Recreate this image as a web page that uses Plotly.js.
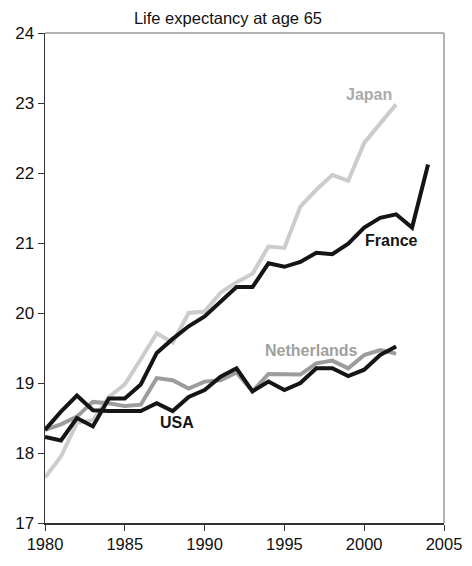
<!DOCTYPE html>
<html>
<head>
<meta charset="utf-8">
<script src="https://cdn.plot.ly/plotly-3.0.1.min.js"></script>
<style>
  html, body { margin: 0; padding: 0; background: #fff; }
  #chart { width: 472px; height: 566px; }
</style>
</head>
<body>
<div id="chart"></div>
<script>
// Life expectancy at age 65 (years), 1980 onwards
const yearsJapan = [1980,1981,1982,1983,1984,1985,1986,1987,1988,1989,1990,1991,1992,1993,1994,1995,1996,1997,1998,1999,2000,2001,2002];
const japan = [17.65,17.95,18.43,18.47,18.8,18.98,19.34,19.71,19.58,20.0,20.02,20.29,20.44,20.56,20.95,20.93,21.52,21.76,21.97,21.89,22.43,22.71,22.98];

const yearsFrance = [1980,1981,1982,1983,1984,1985,1986,1987,1988,1989,1990,1991,1992,1993,1994,1995,1996,1997,1998,1999,2000,2001,2002,2003,2004];
const france = [18.23,18.18,18.5,18.38,18.78,18.78,18.98,19.43,19.63,19.81,19.95,20.16,20.37,20.37,20.71,20.66,20.73,20.86,20.84,20.99,21.22,21.36,21.41,21.22,22.12];

const yearsNL = [1980,1981,1982,1983,1984,1985,1986,1987,1988,1989,1990,1991,1992,1993,1994,1995,1996,1997,1998,1999,2000,2001,2002];
const netherlands = [18.33,18.41,18.52,18.73,18.71,18.67,18.69,19.07,19.04,18.92,19.02,19.04,19.15,18.88,19.13,19.13,19.12,19.28,19.32,19.21,19.4,19.47,19.42];

const yearsUSA = [1980,1981,1982,1983,1984,1985,1986,1987,1988,1989,1990,1991,1992,1993,1994,1995,1996,1997,1998,1999,2000,2001,2002];
const usa = [18.33,18.59,18.82,18.61,18.6,18.6,18.6,18.71,18.6,18.8,18.9,19.09,19.21,18.88,19.02,18.9,19.0,19.21,19.21,19.1,19.19,19.4,19.52];

const xTicks = [1980,1985,1990,1995,2000,2005];
const yTicks = [17,18,19,20,21,22,23,24];

const cJapan = '#cccccc', cNL = '#9c9c9c', cDark = '#151515';
const font = 'Liberation Sans, Arial, Helvetica, sans-serif';

function series(x, y, color) {
  return { x: x, y: y, type: 'scatter', mode: 'lines',
           line: { color: color, width: 4, shape: 'linear' },
           hoverinfo: 'skip', showlegend: false };
}

const traces = [
  series(yearsJapan, japan, cJapan),
  series(yearsNL, netherlands, cNL),
  series(yearsUSA, usa, cDark),
  series(yearsFrance, france, cDark)
];

function label(text, x, y, color) {
  return { text: '<b>' + text + '</b>', x: x, y: y, xref: 'x', yref: 'y',
           showarrow: false, font: { family: font, size: 16, color: color },
           xanchor: 'center', yanchor: 'middle' };
}

const layout = {
  width: 472, height: 566,
  margin: { l: 45, r: 28, t: 33, b: 43 },
  paper_bgcolor: '#fff', plot_bgcolor: '#fff',
  font: { family: font, color: '#111' },
  title: { text: 'Life expectancy at age 65', font: { family: font, size: 16.5, color: '#111' },
           x: 0.483, xanchor: 'center', y: 0.9677, yanchor: 'middle' },
  xaxis: {
    range: [1980, 2005], tickvals: xTicks, ticktext: xTicks.map(String),
    ticks: 'outside', ticklen: 6, tickcolor: '#333', tickwidth: 1,
    showline: true, linecolor: '#333', linewidth: 1.5,
    showgrid: false, zeroline: false,
    tickfont: { family: font, size: 16.5, color: '#111' }
  },
  yaxis: {
    range: [17, 24], tickvals: yTicks, ticktext: yTicks.map(String),
    ticks: 'outside', ticklen: 6, tickcolor: '#333', tickwidth: 1,
    showline: true, linecolor: '#333', linewidth: 1.5,
    showgrid: false, zeroline: false,
    tickfont: { family: font, size: 17, color: '#111' }
  },
  shapes: [
    { type: 'line', xref: 'paper', yref: 'paper', x0: 0, x1: 1, y0: 1, y1: 1,
      line: { color: '#9a9a9a', width: 1.5 } },
    { type: 'line', xref: 'paper', yref: 'paper', x0: 1, x1: 1, y0: 0, y1: 1,
      line: { color: '#9a9a9a', width: 1.5 } }
  ],
  annotations: [
    label('Japan', 2000.3, 23.12, '#aaaaaa'),
    label('France', 2001.7, 21.03, cDark),
    label('Netherlands', 1996.7, 19.47, '#a0a0a0'),
    label('USA', 1988.27, 18.44, cDark)
  ]
};

Plotly.newPlot('chart', traces, layout, { staticPlot: true, displayModeBar: false });
</script>
</body>
</html>
